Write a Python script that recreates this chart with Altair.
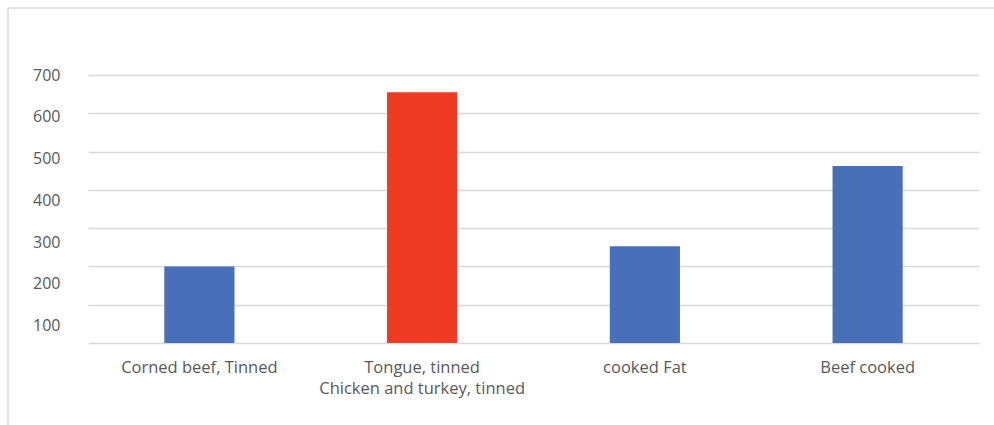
import altair as alt
import pandas as pd

# Product categories and their values
categories = [
    "Corned beef, Tinned",
    "Tongue, tinned|Chicken and turkey, tinned",
    "cooked Fat",
    "Beef cooked",
]
values = [200, 655, 253, 462]
highlight = ["base", "peak", "base", "base"]

y_ticks = [100, 200, 300, 400, 500, 600, 700]

df = pd.DataFrame({"category": categories, "value": values, "group": highlight})

FONT = "Open Sans"
TEXT = "#595959"
GRID = "#d9d9d9"

bars = alt.Chart(df).mark_bar().encode(
    x=alt.X(
        "category:N",
        sort=categories,
        scale=alt.Scale(paddingInner=0.685, paddingOuter=0.3425),
        axis=alt.Axis(
            title=None,
            labelAngle=0,
            labelExpr="split(datum.label, '|')",
            labelFont=FONT,
            labelFontSize=16.5,
            labelColor=TEXT,
            labelPadding=16,
            labelLineHeight=21,
            labelLimit=400,
            ticks=False,
            grid=False,
            domainColor=GRID,
            domainWidth=1.5,
        ),
    ),
    y=alt.Y(
        "value:Q",
        scale=alt.Scale(domain=[0, 700], nice=False),
        axis=alt.Axis(
            title=None,
            values=y_ticks,
            labelFont=FONT,
            labelFontSize=16,
            labelColor=TEXT,
            labelPadding=28,
            labelOffset={"expr": "(700 - datum.value) * 0.035"},
            ticks=False,
            domain=False,
            gridColor=GRID,
            gridWidth=1.5,
        ),
    ),
    color=alt.Color(
        "group:N",
        scale=alt.Scale(domain=["base", "peak"], range=["#4870b8", "#ef3b24"]),
        legend=None,
    ),
)

frame_df = pd.DataFrame({"k": [0]})
top_edge = alt.Chart(frame_df).mark_rule(color=GRID, strokeWidth=1.5).encode(
    x=alt.value(-80), x2=alt.value(906), y=alt.value(-67)
)
left_edge = alt.Chart(frame_df).mark_rule(color=GRID, strokeWidth=1.5).encode(
    x=alt.value(-80), y=alt.value(-67), y2=alt.value(350)
)

chart = (
    alt.layer(bars, top_edge, left_edge)
    .properties(
        width=891,
        height=268,
        autosize="none",
        padding={"left": 88, "top": 75, "right": 15, "bottom": 82},
        view=alt.ViewBackground(strokeOpacity=0, strokeWidth=0),
    )
    .configure_view(strokeOpacity=0, strokeWidth=0)
    .configure(background="white")
)

chart.save("out.html", embed_options={"renderer": "svg", "actions": False})
